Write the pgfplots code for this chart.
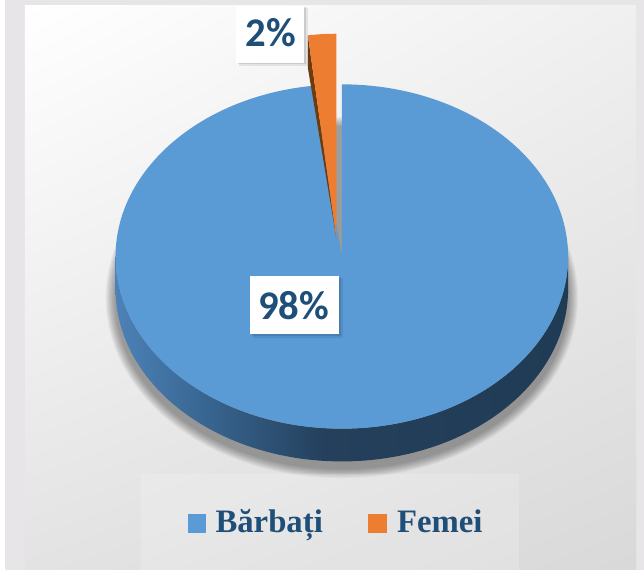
\documentclass[border=0pt]{standalone}
\usepackage{pgfplots}
\pgfplotsset{compat=1.18}
\usepackage{pgfplotstable}
\usepackage{fontspec}
\setmainfont{Liberation Serif}
\newfontfamily\calibri{Carlito}
\usetikzlibrary{shadings}
\definecolor{outerBg}{HTML}{E7E5E8}
\definecolor{pieBlue}{HTML}{5B9BD5}
\definecolor{pieOrange}{HTML}{ED7D31}
\definecolor{pieBrown}{HTML}{6E3A10}
\definecolor{sideL}{HTML}{4D82B8}
\definecolor{sideA}{HTML}{3A6894}
\definecolor{sideM}{HTML}{24405C}
\definecolor{sideR}{HTML}{203B54}
\definecolor{txtBlue}{HTML}{1F4E79}
\pgfdeclarehorizontalshading{pieside}{100bp}{color(0bp)=(sideL); color(25bp)=(sideL);
  color(34bp)=(sideA); color(48bp)=(sideM); color(75bp)=(sideR); color(100bp)=(sideR)}

% share of each group, in percent
\pgfplotstableread{
label value
Barbati 98
Femei 2
}\piedata

\begin{document}
\pgfplotstablegetelem{1}{value}\of\piedata
\pgfmathsetmacro\angF{360*\pgfplotsretval/100}
\pgfmathsetmacro\angB{90+\angF}
\begin{tikzpicture}
\begin{axis}[
  hide axis, scale only axis,
  width=644pt, height=574pt,
  xmin=0, xmax=644, ymin=0, ymax=574,
  clip=false,
]
% background and panel
\fill[outerBg] (axis cs:0,0) rectangle (axis cs:644,574);
\shade[upper left=white, upper right=black!6, lower left=black!11, lower right=black!15]
  (axis cs:20,0) rectangle (axis cs:636,568);

% soft shadow under the pie
\pgfplotsinvokeforeach{0,...,9}{
  \fill[black, opacity=0.04] (axis cs:339.5,274) ellipse [x radius=238pt-#1pt, y radius=182pt-#1pt];
}

% side of the pie (front half)
\shade[shading=pieside]
  (axis cs:111.5,315.5) arc[start angle=180, end angle=360, x radius=228pt, y radius=173.5pt]
  -- ++(0,-33pt) arc[start angle=360, end angle=180, x radius=228pt, y radius=173.5pt] -- cycle;

% top of the large slice
\fill[pieBlue] (axis cs:339.5,315.5) -- ++(\angB:228pt and 173.5pt)
  arc[start angle=\angB, end angle=450, x radius=228pt, y radius=173.5pt] -- cycle;

% exploded small slice
\fill[pieBrown] (axis cs:334,334) -- ++(\angB:229pt and 206pt) -- ++(0,-33pt) -- cycle;
\fill[pieOrange] (axis cs:334,334) -- ++(90:229pt and 206pt)
  arc[start angle=90, end angle=\angB, x radius=229pt, y radius=206pt] -- cycle;

% data labels
\fill[black, opacity=0.08] (axis cs:236,507) rectangle (axis cs:305,566);
\fill[black, opacity=0.10] (axis cs:235,509) rectangle (axis cs:303,567);
\fill[white] (axis cs:233,511) rectangle (axis cs:301,568);
\node[anchor=base, text=txtBlue, font=\calibri\bfseries\fontsize{41}{44}\selectfont, inner sep=0pt]
  at (axis cs:268,527) {2\%};

\fill[black, opacity=0.08] (axis cs:250,233) rectangle (axis cs:341,294);
\fill[black, opacity=0.10] (axis cs:249,235) rectangle (axis cs:339,295);
\fill[white] (axis cs:247,237) rectangle (axis cs:337,296);
\node[anchor=base, text=txtBlue, font=\calibri\bfseries\fontsize{41}{44}\selectfont, inner sep=0pt]
  at (axis cs:291,252) {98\%};

% legend
\fill[white, opacity=0.18] (axis cs:137,0) rectangle (axis cs:518,96);
\fill[pieBlue] (axis cs:184,37) rectangle (axis cs:203,56);
\node[anchor=base west, text=txtBlue, font=\bfseries\fontsize{33}{36}\selectfont, inner sep=0pt]
  at (axis cs:212,37) {Bărbați};
\fill[pieOrange] (axis cs:366,37) rectangle (axis cs:385,56);
\node[anchor=base west, text=txtBlue, font=\bfseries\fontsize{33}{36}\selectfont, inner sep=0pt]
  at (axis cs:395,37) {Femei};
\end{axis}
\end{tikzpicture}
\end{document}
